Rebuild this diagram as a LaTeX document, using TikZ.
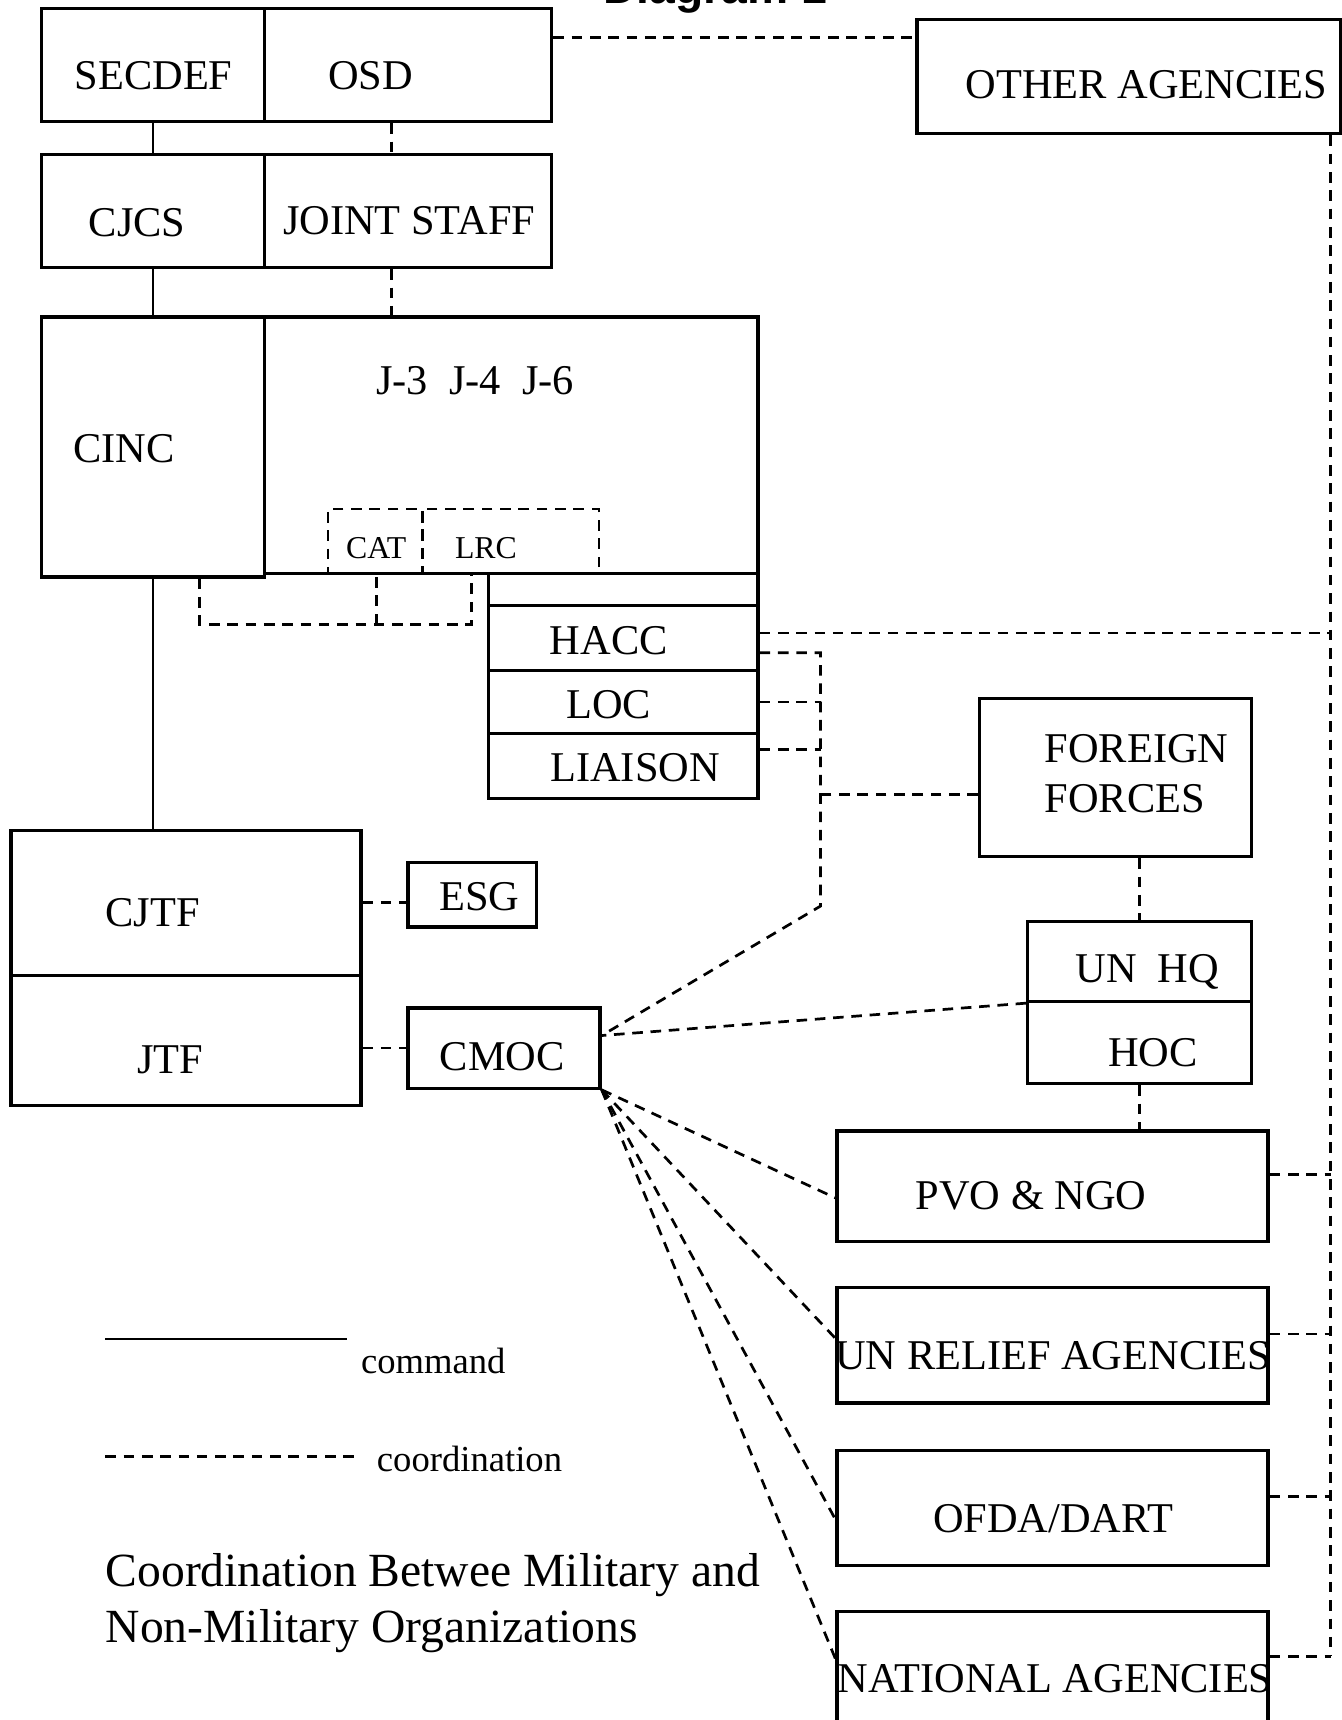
\documentclass[tikz,border=0pt]{standalone}
\usepackage{fontspec}
\setmainfont{Liberation Serif}
\newfontfamily\headfont{Liberation Sans}
\usetikzlibrary{positioning,fit}

\begin{document}
\begin{tikzpicture}[x=0.02cm,y=-0.02cm]
% STYLES
\tikzset{%
    orgbox/.style={%
        rectangle, draw, line width=1.7pt, inner sep=0pt
    },
    cellbox/.style={%
        rectangle, draw, line width=1.4pt, dash pattern=on 5.5pt off 4pt, inner sep=0pt
    },
    orgtext/.style={inner sep=0pt, font=\fontsize{22}{26}\selectfont},
    subtext/.style={inner sep=0pt, font=\fontsize{16.5}{20}\selectfont},
    keytext/.style={inner sep=0pt, font=\fontsize{19}{23}\selectfont},
    cmdline/.style={line width=1.1pt},
    coordline/.style={line width=1.4pt, dash pattern=on 5.5pt off 4pt}
}
\useasboundingbox (0,0) rectangle (1223,1568);
\node[anchor=base, font=\headfont\bfseries\fontsize{24}{28}\selectfont] (head) at (652,3) {Diagram 1};
% Military side
\node[orgbox, fit={(38,8) (241,111)}] (secdef) {};
\node[orgbox, fit={(241,8) (503,111)}] (osd) {};
\node[orgbox, fit={(38,141) (241,244)}] (cjcs) {};
\node[orgbox, fit={(241,141) (503,244)}] (jstaff) {};
\node[orgbox, fit={(38,289) (241,526)}] (cinc) {};
\node[orgbox, fit={(241,289) (691,523)}] (jbox) {};
\node[cellbox, fit={(299,464) (385,523)}] (cat) {};
\node[cellbox, fit={(385,464) (546,523)}] (lrc) {};
\node[orgbox, fit={(445,523) (691,552)}] (spare) {};
\node[orgbox, fit={(445,552) (691,611)}] (hacc) {};
\node[orgbox, fit={(445,611) (691,669)}] (loc) {};
\node[orgbox, fit={(445,669) (691,728)}] (liaison) {};
\node[orgbox, fit={(10,757) (329,889)}] (cjtf) {};
\node[orgbox, fit={(10,889) (329,1008)}] (jtf) {};
\node[orgbox, fit={(372,786) (489,845)}] (esg) {};
\node[orgbox, fit={(372,919) (547,992)}] (cmoc) {};
% Other side
\node[orgbox, fit={(836,18) (1222,122)}] (oa) {};
\node[orgbox, fit={(893,637) (1141,781)}] (ff) {};
\node[orgbox, fit={(937,840) (1141,913)}] (unhq) {};
\node[orgbox, fit={(937,913) (1141,988)}] (hoc) {};
\node[orgbox, fit={(763,1031) (1156,1132)}] (pvo) {};
\node[orgbox, fit={(763,1174) (1156,1279)}] (unr) {};
\node[orgbox, fit={(763,1322) (1156,1427)}] (ofda) {};
\node[orgbox, fit={(763,1469) (1156,1572)}] (nat) {};
% Labels
\node[orgtext] (secdef-t) at (140,69) {SECDEF};
\node[orgtext] (osd-t) at (338,69) {OSD};
\node[orgtext] (cjcs-t) at (125,203) {CJCS};
\node[orgtext] (jstaff-t) at (373,201) {JOINT STAFF};
\node[orgtext] (cinc-t) at (113,409) {CINC};
\node[orgtext] (jbox-t) at (433,347) {J-3\ \ J-4\ \ J-6};
\node[subtext] (cat-t) at (343,500) {CAT};
\node[subtext] (lrc-t) at (443,500) {LRC};
\node[orgtext] (hacc-t) at (555,584) {HACC};
\node[orgtext] (loc-t) at (555,642) {LOC};
\node[orgtext] (liaison-t) at (579,700) {LIAISON};
\node[orgtext] (cjtf-t) at (139,832) {CJTF};
\node[orgtext] (jtf-t) at (155,966) {JTF};
\node[orgtext] (esg-t) at (437,817) {ESG};
\node[orgtext] (cmoc-t) at (458,963) {CMOC};
\node[orgtext] (oa-t) at (1045,77) {OTHER AGENCIES};
\node[orgtext, anchor=west, align=left] (ff-t) at (952,705) {FOREIGN\\FORCES};
\node[orgtext] (unhq-t) at (1046,886) {UN\ \ HQ};
\node[orgtext] (hoc-t) at (1051,960) {HOC};
\node[orgtext] (pvo-t) at (940,1090) {PVO \& NGO};
\node[orgtext] (unr-t) at (960,1236) {UN RELIEF AGENCIES};
\node[orgtext] (ofda-t) at (960,1384) {OFDA/DART};
\node[orgtext] (nat-t) at (962,1530) {NATIONAL AGENCIES};
% Draw command links
\path[cmdline]
    (secdef) edge (cjcs)
    (cjcs) edge (cinc)
    (cinc.south) edge (cinc.south |- cjtf.north);
% Draw coordination links
\coordinate (dj) at (357,0);
\coordinate (ob) at (0,34);
\coordinate (tr) at (1213,0);
\coordinate (bend) at (748,826);
\coordinate (brl) at (182,569);
\coordinate (brm) at (343,569);
\coordinate (brr) at (430,569);
\path[coordline]
    (osd.south -| dj) edge (jstaff.north -| dj)
    (jstaff.south -| dj) edge (jbox.north -| dj)
    (osd.east |- ob) edge (oa.west |- ob)
    (oa.south -| tr) edge ([yshift=0.21cm]nat.east -| tr)
    ([yshift=0.09cm]hacc.east) edge ([yshift=0.09cm]hacc.east -| tr)
    ([yshift=0.21cm]pvo.east) edge ([yshift=0.21cm]pvo.east -| tr)
    ([yshift=0.21cm]unr.east) edge ([yshift=0.21cm]unr.east -| tr)
    ([yshift=0.21cm]ofda.east) edge ([yshift=0.21cm]ofda.east -| tr)
    ([yshift=0.21cm]nat.east) edge ([yshift=0.21cm]nat.east -| tr)
    (loc.east) edge (loc.east -| bend)
    ([yshift=0.31cm]liaison.east) edge ([yshift=0.31cm]liaison.east -| bend)
    ([yshift=-0.3cm]ff.west) edge ([yshift=-0.3cm]ff.west -| bend)
    (ff.south -| unhq.north) edge (unhq.north)
    (hoc.south) edge (hoc.south |- pvo.north)
    (unhq.south west) edge ([yshift=0.23cm]cmoc.east)
    (cmoc.south east) edge ([yshift=-0.21cm]pvo.west)
    (cmoc.south east) edge ([yshift=0.13cm]unr.west)
    (cmoc.south east) edge ([yshift=-0.21cm]ofda.west)
    (cmoc.south east) edge ([yshift=0.17cm]nat.west)
    (cjtf.east) edge (cjtf.east -| esg.west)
    (cmoc.west -| jtf.east) edge (cmoc.west);
\draw[coordline] ([yshift=-0.27cm]hacc.east) -| (bend) -- ([yshift=0.23cm]cmoc.east);
\draw[coordline] (cinc.south -| brl) -- (brl) -- (brr) -- (brr |- jbox.south);
\draw[coordline] (brm) -- (brm |- cat.south);
% Key
\coordinate (k1a) at (96,1221);
\coordinate (k1b) at (316,1221);
\coordinate (k2a) at (96,1328);
\coordinate (k2b) at (328,1328);
\draw[cmdline] (k1a) -- (k1b);
\draw[coordline] (k2a) -- (k2b);
\node[keytext] (cmd-t) at (395,1241) {command};
\node[keytext] (crd-t) at (428,1330) {coordination};
\node[anchor=base west, inner sep=0pt, font=\fontsize{24.7}{30}\selectfont] (title1) at (96,1446) {Coordination Betwee Military and};
\node[anchor=base west, inner sep=0pt, font=\fontsize{24.7}{30}\selectfont] (title2) at (96,1497) {Non-Military Organizations};
\end{tikzpicture}
\end{document}
